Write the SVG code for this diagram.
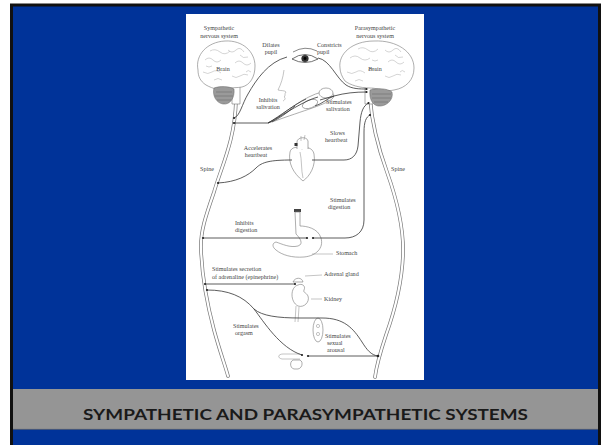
<svg xmlns="http://www.w3.org/2000/svg" width="602" height="445" viewBox="0 0 602 445">
<style>
.lbl{font-family:"Liberation Serif",serif;font-size:6.1px;fill:#444}
.nerve{fill:none;stroke:#333;stroke-width:0.8}
.outl{fill:#fff;stroke:#777;stroke-width:0.6}
.gyr{fill:none;stroke:#aaa;stroke-width:0.5}
.cer{fill:#9a9a9a;stroke:#666;stroke-width:0.5}
.thin{fill:none;stroke:#888;stroke-width:0.5}
.dot{fill:#222}
.sp-o{fill:none;stroke:#777;stroke-width:3.6;stroke-linecap:round}
.sp-i{fill:none;stroke:#fff;stroke-width:2.2;stroke-linecap:round}
.title{font-family:Lato,"Open Sans",sans-serif;font-weight:bold;font-size:16px;fill:#1a1a1a}
</style>
<rect width="602" height="445" fill="#fff"/>
<rect x="10" y="3.5" width="591" height="441.5" fill="#111"/>
<rect x="13" y="6.5" width="585" height="438.5" fill="#003399"/>
<rect x="186" y="14" width="238" height="366" fill="#fff"/>
<rect x="13" y="389" width="585" height="40" fill="#959595"/>
<line x1="13" y1="429.3" x2="598" y2="429.3" stroke="#6a6a6a" stroke-width="0.8"/>
<text class="title" x="305.5" y="420" text-anchor="middle" textLength="445" lengthAdjust="spacingAndGlyphs">SYMPATHETIC AND PARASYMPATHETIC SYSTEMS</text>

<g id="spine-left">
<path class="sp-o" d="M236 100 C235 140,222 165,214 192 C206 215,200 232,201 250 C202 275,206 300,214 330 C220 352,225 365,228 376"/>
<path class="sp-i" d="M236 100 C235 140,222 165,214 192 C206 215,200 232,201 250 C202 275,206 300,214 330 C220 352,225 365,228 376"/>
</g>
<g id="spine-right">
<path class="sp-o" d="M370 98 C372 125,379 150,387 172 C397 200,404 230,403 255 C402 280,395 310,386 335 C381 350,377 362,375 377"/>
<path class="sp-i" d="M370 98 C372 125,379 150,387 172 C397 200,404 230,403 255 C402 280,395 310,386 335 C381 350,377 362,375 377"/>
</g>

<g id="brain-left">
<path class="outl" d="M232 84 L232 104 L240 104 L240 84 Z"/>
<path class="outl" d="M198 70 C195 55,207 42,225 41 C243 40,255 52,255 66 C255 77,250 85,242 87 C238 88,232 87,228 89 C222 91,213 89,206 85 C200 81,198 76,198 70 Z"/>
<path class="gyr" d="M205 60 q4 -4 8 0 t8 0 M210 51 q5 -3 10 1 t10 -1 M228 50 q4 4 8 0 t8 2 M203 72 q5 3 9 0 t9 1 M235 63 q4 -4 8 0 t8 0 M232 76 q4 3 8 0 t8 -1 M240 55 q3 4 8 2 M214 80 q4 -3 8 0 M206 66 q3 2 6 0 M246 72 q2 -3 5 0"/>
<path class="cer" d="M214 88 C220 86,229 86,234 89 C235 98,230 105,223 104 C216 103,212 95,214 88 Z"/>
<path fill="none" stroke="#555" stroke-width="0.4" d="M216 92 L232 92 M215 96 L233 96 M217 100 L231 100"/>
</g>

<g id="brain-right">
<path class="outl" d="M365 84 L365 104 L373 104 L373 84 Z"/>
<path class="outl" d="M340 68 C338 54,352 41,374 41 C397 40,414 52,414 68 C414 80,406 88,394 90 C386 92,378 88,370 88 C360 88,350 85,345 81 C342 77,340 72,340 68 Z"/>
<path class="gyr" d="M350 58 q5 -4 10 0 t10 0 M358 49 q5 -3 10 1 t10 -1 M385 50 q4 4 8 0 t8 2 M347 72 q5 3 9 0 t9 1 M388 62 q4 -4 8 0 t8 0 M385 76 q4 3 8 0 t8 -1 M395 55 q3 4 8 2 M355 81 q4 -3 8 0 M372 60 q3 2 6 0 M400 72 q2 -3 5 0 M368 70 q4 -3 8 0"/>
<path class="cer" d="M370 90 C376 88,387 88,392 92 C394 100,386 107,378 106 C372 105,369 98,370 90 Z"/>
<path fill="none" stroke="#555" stroke-width="0.4" d="M372 94 L391 94 M372 98 L391 98 M374 102 L388 102"/>
</g>

<g id="eye">
<path d="M293 52 Q305 45 317 51" fill="none" stroke="#555" stroke-width="0.7"/>
<path d="M292 59 Q305 50 318 59 Q305 66 292 59 Z" fill="#fff" stroke="#333" stroke-width="0.7"/>
<circle cx="305" cy="58.5" r="3.6" fill="#333"/>
<circle cx="305" cy="58.5" r="1.4" fill="#000"/>
</g>

<g id="face">
<path class="thin" d="M284 70 C283 78,281 84,278 90 C281 91,284 90,286 92 C284 94,286 96,284 97 C286 98,285 100,283 101"/>
</g>

<g id="salivary">
<path class="outl" d="M272 122 C285 112,305 96,322 92 C330 90,336 93,333 98 C328 104,305 110,272 122 Z"/>
<ellipse class="outl" cx="326" cy="93" rx="7" ry="5"/>
<ellipse class="outl" cx="310" cy="104" rx="8" ry="4" transform="rotate(-20 310 104)"/>
</g>

<g id="heart">
<path class="outl" d="M290 152 C288 163,293 173,303 181 C310 176,316 166,314 154 C313 148,306 146,302 149 C298 146,291 147,290 152 Z"/>
<path class="outl" d="M297 149 L297 142 C297 137,307 136,308 141 L308 149"/>
<path class="thin" d="M301 141 L301 136 M304 140 L305 135 M300 152 C302 160,301 170,303 178"/>
<rect x="294.5" y="143" width="3" height="3" fill="#333"/>
</g>

<g id="stomach">
<rect x="294" y="209" width="7" height="3" fill="#444"/>
<path class="outl" d="M300 212 L300 226 C306 226,318 228,321 238 C324 248,316 256,304 257 C292 258,282 255,276 250 C272 247,272 243,276 242 C282 244,290 248,298 246 C304 244,300 238,296 234 L295 212 Z"/>
</g>

<g id="kidney">
<path class="outl" d="M293 282 C295 277,302 277,303 282 Z"/>
<path class="outl" d="M298 285 C290 287,290 302,298 306 C304 308,310 302,308 296 C306 292,303 293,304 290 C306 286,302 283,298 285 Z"/>
<path class="thin" d="M296 306 L295 322 M299 307 L298 322"/>
</g>

<g id="genitals">
<ellipse class="outl" cx="318" cy="330" rx="5" ry="12"/>
<circle class="thin" cx="318" cy="326" r="1.6"/>
<circle class="thin" cx="318" cy="334" r="1.6"/>
<path class="thin" d="M300 354 L283 354 C278 354,277 358,282 359 L300 359"/>
<path class="outl" d="M293 360 C289 362,290 370,296 369 C302 370,304 362,300 360 Z"/>
</g>

<g id="connectors">
<path class="nerve" d="M234 118 C240 116,242 104,248 94 C256 80,268 62,287 57"/>
<path class="nerve" d="M234 123 L268 123 C278 120,288 112,295 106 M268 123 C280 116,295 104,306 99 M268 123 C285 114,305 100,318 97"/>
<path class="nerve" d="M318 58 C330 60,336 78,346 85 C352 89,360 89,366.5 89"/>
<path class="nerve" d="M366.5 92 C355 92,345 93,334 96 L320 100 M334 96 C328 98,322 104,315 106"/>
<path class="nerve" d="M218 183 C236 182,248 176,256 168 C262 162,270 160,292 160"/>
<path class="nerve" d="M368.5 103 C363 106,361 112,360 122 L358 146 C357 155,352 160,344 160 L312 160"/>
<path class="nerve" d="M370 115 C366 117,364 122,364 132 L364 220 C364 232,356 238,345 238 L313 238"/>
<path class="nerve" d="M203 238 L307 238"/>
<path class="nerve" d="M205 284 L295 284"/>
<path class="nerve" d="M207 290 C228 290,243 296,254 309 C264 322,280 348,302 355"/>
<path class="nerve" d="M254 309 C262 316,278 318,300 318 L322 318 C344 318,353 328,362 342 C367 350,371 355,378 356"/>
<path class="nerve" d="M308 356 L378 356"/>
<g class="dot">
<circle cx="234" cy="118" r="1.1"/><circle cx="234" cy="123" r="1.1"/><circle cx="218" cy="183" r="1.1"/>
<circle cx="203" cy="238" r="1.1"/><circle cx="205" cy="284" r="1.1"/><circle cx="207" cy="290" r="1.1"/>
<circle cx="366.5" cy="89" r="1.1"/><circle cx="366.5" cy="92" r="1.1"/><circle cx="368.5" cy="103" r="1.1"/>
<circle cx="370" cy="115" r="1.1"/><circle cx="378" cy="356" r="1.3"/>
<circle cx="307" cy="238" r="1.1"/><circle cx="313" cy="238" r="1.1"/><circle cx="295" cy="284" r="1.1"/>
<circle cx="302" cy="355" r="1.1"/><circle cx="308" cy="356" r="1.1"/>
</g>
<path class="thin" d="M312 254 L333 254 M305 276 L322 275 M311 299 L322 299"/>
</g>

<g id="labels">
<text class="lbl" x="219" y="30" text-anchor="middle">Sympathetic</text>
<text class="lbl" x="219" y="38" text-anchor="middle">nervous system</text>
<text class="lbl" x="375" y="30" text-anchor="middle">Parasympathetic</text>
<text class="lbl" x="375" y="38" text-anchor="middle">nervous system</text>
<text class="lbl" x="271" y="47" text-anchor="middle">Dilates</text>
<text class="lbl" x="271" y="54" text-anchor="middle">pupil</text>
<text class="lbl" x="317" y="47">Constricts</text>
<text class="lbl" x="317" y="54">pupil</text>
<text class="lbl" x="223" y="71" text-anchor="middle">Brain</text>
<text class="lbl" x="375" y="71" text-anchor="middle">Brain</text>
<text class="lbl" x="268" y="102" text-anchor="middle">Inhibits</text>
<text class="lbl" x="268" y="109" text-anchor="middle">salivation</text>
<text class="lbl" x="326" y="104">Stimulates</text>
<text class="lbl" x="326" y="111">salivation</text>
<text class="lbl" x="330" y="135">Slows</text>
<text class="lbl" x="325" y="142">heartbeat</text>
<text class="lbl" x="258" y="150" text-anchor="middle">Accelerates</text>
<text class="lbl" x="256" y="157" text-anchor="middle">heartbeat</text>
<text class="lbl" x="207" y="171" text-anchor="middle">Spine</text>
<text class="lbl" x="398" y="171" text-anchor="middle">Spine</text>
<text class="lbl" x="330" y="202">Stimulates</text>
<text class="lbl" x="328" y="209">digestion</text>
<text class="lbl" x="235" y="225">Inhibits</text>
<text class="lbl" x="235" y="232">digestion</text>
<text class="lbl" x="336" y="255">Stomach</text>
<text class="lbl" x="212" y="271">Stimulates secretion</text>
<text class="lbl" x="212" y="279">of adrenaline (epinephrine)</text>
<text class="lbl" x="324" y="276">Adrenal gland</text>
<text class="lbl" x="324" y="301">Kidney</text>
<text class="lbl" x="233" y="328">Stimulates</text>
<text class="lbl" x="235" y="335">orgasm</text>
<text class="lbl" x="325" y="338">Stimulates</text>
<text class="lbl" x="327" y="345">sexual</text>
<text class="lbl" x="327" y="352">arousal</text>
</g>
</svg>
